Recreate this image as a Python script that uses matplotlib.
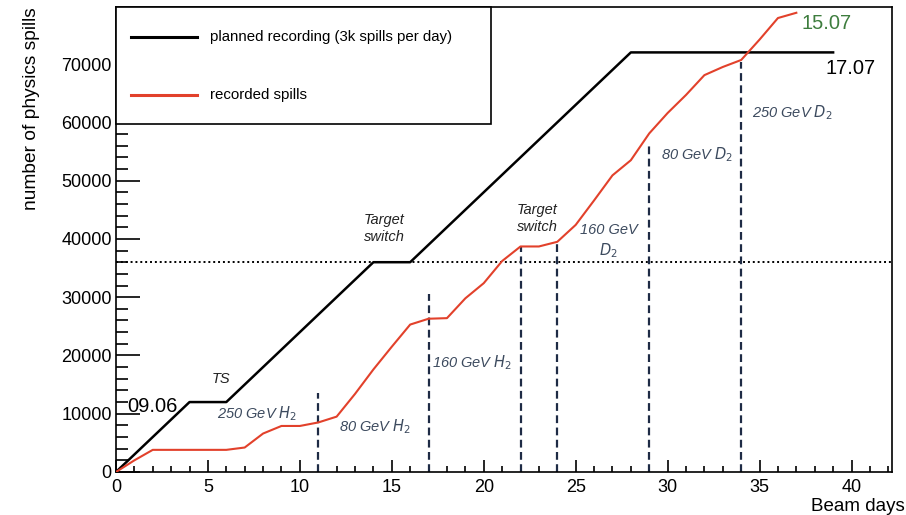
import numpy as np
import matplotlib.pyplot as plt
from matplotlib.lines import Line2D
from matplotlib.patches import Rectangle

plt.rcParams['font.family'] = ['Liberation Sans', 'DejaVu Sans']
plt.rcParams['mathtext.fontset'] = 'dejavusans'

# planned recording (3k spills per day)
plan_days = np.array([0, 4, 6, 14, 16, 28, 39])
plan_spills = np.array([0, 12000, 12000, 36000, 36000, 72000, 72000])

# recorded spills
rec_days = np.arange(0, 38)
rec_spills = np.array([0, 2000, 3800, 3800, 3800, 3800, 3800, 4200, 6600, 7900,
                       7900, 8500, 9500, 13400, 17600, 21500, 25300, 26300, 26400, 29800,
                       32400, 36200, 38700, 38700, 39500, 42400, 46600, 50900, 53500, 58100,
                       61600, 64700, 68100, 69500, 70700, 74200, 77900, 78800])

# beam setting changes
switch_days = [11, 17, 22, 24, 29, 34]
switch_tops = [13600, 30500, 38700, 39500, 56400, 70400]
half_level = 36000

labels = ["250 GeV $H_2$", "80 GeV $H_2$", "160 GeV $H_2$", "160 GeV\n$D_2$",
          "80 GeV $D_2$", "250 GeV $D_2$"]
label_x = [7.7, 14.1, 17.2, 26.8, 31.6, 36.8]
label_y = [10000, 7700, 18700, 39600, 54400, 61700]
label_ha = ['center', 'center', 'left', 'center', 'center', 'center']


def main():
    fig = plt.figure(figsize=(9.06, 5.15), dpi=100)
    ax = fig.add_axes([0.128, 0.0835, 0.8565, 0.903])

    ax.plot(plan_days, plan_spills, color='black', lw=1.8, zorder=3)
    ax.plot(rec_days, rec_spills, color='#e2412b', lw=1.5, zorder=3)
    ax.axhline(half_level, color='black', lw=1.4, ls=(0, (1, 1.5)), zorder=2)
    for d, top in zip(switch_days, switch_tops):
        ax.plot([d, d], [0, top], color='#1e2b45', lw=1.6, ls=(0, (3.5, 2)), zorder=2)

    gray = '#3c4a5e'
    for t, x, y, ha in zip(labels, label_x, label_y, label_ha):
        ax.text(x, y, t, ha=ha, va='center', fontsize=10.5, style='italic', color=gray,
                linespacing=1.3)
    ax.text(14.6, 41800, "Target\nswitch", ha='center', va='center', fontsize=10.5,
            style='italic', color='#222222', linespacing=1.3)
    ax.text(22.9, 43500, "Target\nswitch", ha='center', va='center', fontsize=10.5,
            style='italic', color='#222222', linespacing=1.3)
    ax.text(5.7, 16000, "TS", ha='center', va='center', fontsize=10.5,
            style='italic', color='#222222')
    ax.text(0.6, 11300, "09.06", ha='left', va='center', fontsize=14.5)
    ax.text(38.6, 69300, "17.07", ha='left', va='center', fontsize=14.5)
    ax.text(37.3, 77000, "15.07", ha='left', va='center', fontsize=14.5, color='#3e7d3e')

    ax.set_xlim(0, 42.2)
    ax.set_ylim(0, 79800)
    ax.set_xticks(np.arange(0, 41, 5))
    ax.set_xticks(np.arange(0, 43, 1), minor=True)
    ax.set_yticks(np.arange(0, 70001, 10000))
    ax.set_yticks(np.arange(0, 78001, 2000), minor=True)
    ax.tick_params(axis='both', which='both', direction='in', top=False, right=False,
                   labelsize=13, width=1.2)
    ax.tick_params(axis='y', which='major', length=17, pad=3)
    ax.tick_params(axis='y', which='minor', length=8.5)
    ax.tick_params(axis='x', which='major', length=8.5, pad=5)
    ax.tick_params(axis='x', which='minor', length=4.3)
    for s in ax.spines.values():
        s.set_linewidth(1.2)

    ax.set_ylabel("number of physics spills", fontsize=13.8, loc='top')
    ax.yaxis.set_label_coords(-0.098, 1.0)
    ax.set_xlabel("Beam days", fontsize=13.5, loc='right')
    ax.xaxis.set_label_coords(1.016, -0.056)

    # legend box drawn over the axes corner
    ax.add_patch(Rectangle((0, 0.748), 0.483, 0.252, transform=ax.transAxes,
                           facecolor='white', edgecolor='black', lw=1.2, zorder=10,
                           clip_on=False))
    ax.add_line(Line2D([0.019, 0.104], [0.935, 0.935], transform=ax.transAxes,
                       color='black', lw=2.2, zorder=11))
    ax.add_line(Line2D([0.019, 0.104], [0.81, 0.81], transform=ax.transAxes,
                       color='#e2412b', lw=2.2, zorder=11))
    ax.text(0.121, 0.935, "planned recording (3k spills per day)", transform=ax.transAxes,
            va='center', fontsize=10.8, zorder=12)
    ax.text(0.121, 0.81, "recorded spills", transform=ax.transAxes,
            va='center', fontsize=10.8, zorder=12)

    fig.savefig("out.png", dpi=100)


if __name__ == "__main__":
    main()
